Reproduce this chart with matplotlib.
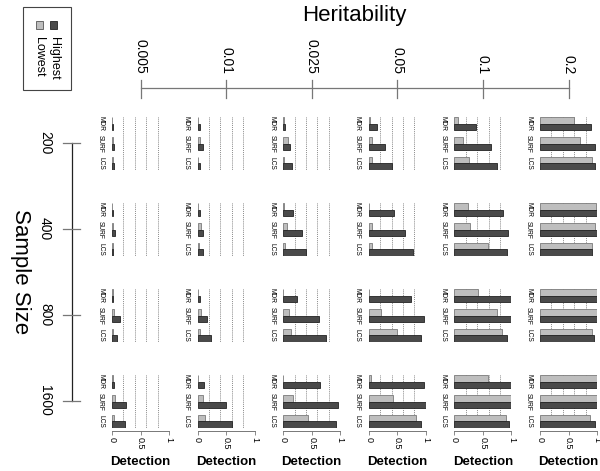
import matplotlib
matplotlib.use("Agg")
import matplotlib.pyplot as plt
from matplotlib.patches import Rectangle

plt.rcParams['font.family'] = ['Liberation Sans', 'DejaVu Sans']

# data: rows = sample size, columns = heritability
heritability = ["0.005", "0.01", "0.025", "0.05", "0.1", "0.2"]
sample_sizes = ["200", "400", "800", "1600"]
methods = ["MDR", "SURF", "LCS"]

mdr_lowest = [[0.00, 0.01, 0.01, 0.02, 0.07, 0.59],
              [0.00, 0.01, 0.01, 0.00, 0.23, 0.99],
              [0.01, 0.01, 0.00, 0.01, 0.41, 1.00],
              [0.01, 0.00, 0.00, 0.03, 0.59, 1.00]]
mdr_highest = [[0.01, 0.05, 0.03, 0.15, 0.38, 0.89],
               [0.01, 0.04, 0.17, 0.44, 0.86, 1.00],
               [0.02, 0.04, 0.25, 0.74, 1.00, 1.00],
               [0.03, 0.11, 0.65, 0.96, 1.00, 1.00]]
surf_lowest = [[0.02, 0.035, 0.08, 0.05, 0.15, 0.71],
               [0.02, 0.06, 0.06, 0.05, 0.27, 0.97],
               [0.04, 0.06, 0.10, 0.22, 0.75, 1.00],
               [0.06, 0.09, 0.17, 0.43, 0.99, 1.00]]
surf_highest = [[0.04, 0.09, 0.12, 0.28, 0.64, 0.96],
                [0.05, 0.09, 0.33, 0.64, 0.94, 1.00],
                [0.14, 0.16, 0.63, 0.96, 1.00, 1.00],
                [0.24, 0.49, 0.96, 1.00, 1.00, 1.00]]
lcs_lowest = [[0.01, 0.01, 0.01, 0.05, 0.25, 0.92],
              [0.01, 0.02, 0.03, 0.06, 0.59, 0.92],
              [0.01, 0.04, 0.13, 0.49, 0.84, 0.92],
              [0.04, 0.13, 0.44, 0.82, 0.91, 0.88]]
lcs_highest = [[0.03, 0.05, 0.16, 0.40, 0.75, 0.97],
               [0.02, 0.10, 0.40, 0.77, 0.93, 0.92],
               [0.08, 0.23, 0.75, 0.91, 0.92, 0.95],
               [0.23, 0.61, 0.92, 0.92, 0.96, 0.96]]

lowest = [mdr_lowest, surf_lowest, lcs_lowest]
highest = [mdr_highest, surf_highest, lcs_highest]

light = "#bebebe"
dark = "#4a4a4a"

W, H = 600, 471
fig = plt.figure(figsize=(6, 4.71), dpi=100)

# overlay in pixel coords for the outer axes / legend
bg = fig.add_axes([0, 0, 1, 1])
bg.set_xlim(0, W)
bg.set_ylim(H, 0)
bg.axis("off")

col_left = [112 + 85.6 * c for c in range(6)]
row_bottom = [170 + 86 * r for r in range(4)]
pw, ph = 57, 53

for r in range(4):
    for c in range(6):
        ax = fig.add_axes([col_left[c] / W, (H - row_bottom[r]) / H, pw / W, ph / H])
        for m in range(3):
            ax.barh(3 * m + 0.5, lowest[m][r][c], height=1, left=0, color=light,
                    edgecolor="#7a7a7a", linewidth=0.6)
            ax.barh(3 * m + 1.5, highest[m][r][c], height=1, left=0, color=dark,
                    edgecolor="#222222", linewidth=0.6)
            ax.text(-0.2, 3 * m + 1, methods[m], rotation=-90, ha="center", va="center",
                    fontsize=4.8, clip_on=False)
        ax.vlines([0.2, 0.4, 0.6, 0.8, 1.0], 0, 8, colors="#666666", linestyles=(0, (1, 1.3)),
                  linewidth=0.6, zorder=0)
        ax.set_xlim(0, 1)
        ax.set_ylim(8, 0)
        for s in ["top", "left", "right"]:
            ax.spines[s].set_visible(False)
        ax.set_yticks([])
        if r == 3:
            ax.spines["bottom"].set_bounds(0, 1)
            ax.spines["bottom"].set_color("#777777")
            ax.spines["bottom"].set_linewidth(0.7)
            ax.spines["bottom"].set_position(("outward", 2))
            ax.set_xticks([0, 0.5, 1])
            ax.set_xticklabels(["0", "0.5", "1"], rotation=-90, fontsize=6.5)
            ax.tick_params(axis="x", length=3, width=0.6, color="#777777", pad=1.5)
            ax.set_xlabel("Detection", fontsize=9.5, fontweight="bold", labelpad=5)
        else:
            ax.spines["bottom"].set_visible(False)
            ax.set_xticks([])
        ax.patch.set_alpha(0)

# heritability axis across the top
hx = [x + pw / 2 for x in col_left]
bg.plot([hx[0], hx[-1]], [88, 88], color="#777777", lw=0.9)
for x, lab in zip(hx, heritability):
    bg.plot([x, x], [80, 98], color="#777777", lw=0.9)
    bg.text(x, 74, lab, rotation=-90, ha="center", va="bottom", fontsize=10)
bg.text((hx[0] + hx[-1]) / 2, 15, "Heritability", ha="center", va="center", fontsize=16)

# sample size axis on the left
sy = [b - ph / 2 - 1 for b in row_bottom]
bg.plot([72, 72], [sy[0], sy[-1]], color="#222222", lw=0.9)
for y, lab in zip(sy, sample_sizes):
    bg.plot([63, 80], [y, y], color="#777777", lw=0.9)
    bg.text(45, y, lab, rotation=-90, ha="center", va="center", fontsize=10)
bg.text(20, (sy[0] + sy[-1]) / 2, "Sample Size", rotation=-90, ha="center", va="center",
        fontsize=16)

# legend box
bg.add_patch(Rectangle((23, 7), 48, 83, fill=False, edgecolor="#444444", lw=0.8))
bg.add_patch(Rectangle((36, 21), 7, 8, facecolor=light, edgecolor="#555555", lw=0.6))
bg.add_patch(Rectangle((50, 21), 7, 8, facecolor=dark, edgecolor="#222222", lw=0.6))
bg.text(54, 37, "Highest", rotation=-90, ha="center", va="top", fontsize=9)
bg.text(39, 37, "Lowest", rotation=-90, ha="center", va="top", fontsize=9)

fig.savefig("out.png", dpi=100)
